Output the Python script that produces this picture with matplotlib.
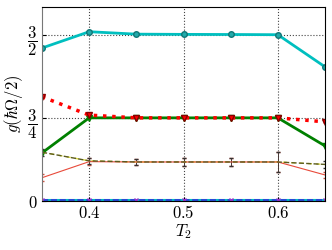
import numpy as np
import matplotlib.pyplot as plt

plt.rcParams['mathtext.fontset'] = 'cm'
plt.rcParams['font.family'] = 'serif'
plt.rcParams['font.serif'] = ['DejaVu Serif']

T2 = [0.35, 0.40, 0.45, 0.50, 0.55, 0.60, 0.65]
g_cyan = [1.38, 1.527, 1.505, 1.503, 1.502, 1.50, 1.21]
g_red_dot = [0.94, 0.775, 0.75, 0.75, 0.75, 0.75, 0.714]
g_green = [0.434, 0.75, 0.75, 0.75, 0.75, 0.75, 0.497]
g_olive = [0.44, 0.362, 0.352, 0.352, 0.352, 0.352, 0.33]
g_red_thin = [0.21, 0.355, 0.352, 0.352, 0.352, 0.352, 0.235]
err_olive = [0.03, 0.03, 0.03, 0.04, 0.04, 0.09, 0.03]
g_zero = [0.006, 0.006, 0.006, 0.006, 0.006, 0.006, 0.006]

fig = plt.figure(figsize=(3.32, 2.5), dpi=100)
ax = fig.add_axes([0.1265, 0.196, 0.8525, 0.776])

ax.plot(T2, g_cyan, '-o', color='c', lw=2, ms=4, mec='#117777', mfc='#22aaaa')
ax.plot(T2, g_green, '-v', color='g', lw=2, ms=4)
ax.plot(T2, g_red_dot, ':', color='r', lw=2.5)
ax.plot(T2, g_red_dot, 'v', color='r', ms=4, mec='#880000')
ax.errorbar(T2, g_red_thin, yerr=err_olive, color='#e84a3a', lw=0.8,
            elinewidth=0.6, capsize=1.5, ecolor='#cc5544')
ax.errorbar(T2, g_olive, yerr=err_olive, fmt='--', color='#5a5a20', lw=1,
            elinewidth=0.6, capsize=1.5, ecolor='#333333')
ax.plot(T2, g_olive, '--', color='#d8d840', lw=1, dashes=(3, 3))
ax.plot(T2, g_zero, '-', color='c', lw=1.5)
ax.plot(T2, g_zero, '--x', color='#3333dd', lw=1.2, ms=3, mec='#9933cc')

ax.set_xlim(0.35, 0.65)
ax.set_ylim(0, 1.75)
ax.set_xticks([0.4, 0.5, 0.6])
ax.set_xticklabels([r'$0.4$', r'$0.5$', r'$0.6$'])
ax.set_yticks([0, 0.75, 1.5])
ax.set_yticklabels([r'$0$', r'$\dfrac{3}{4}$', r'$\dfrac{3}{2}$'])
ax.tick_params(labelsize=12, direction='in', length=3, pad=3)
ax.grid(True, ls=':', color='#444444', lw=0.8)
ax.set_xlabel(r'$T_2$', fontsize=12, labelpad=0)
ax.set_ylabel(r'$g(\hbar\Omega/2)$', fontsize=12, labelpad=2)
ax.spines['left'].set_color('#777777')

fig.savefig('out.png', dpi=100)
